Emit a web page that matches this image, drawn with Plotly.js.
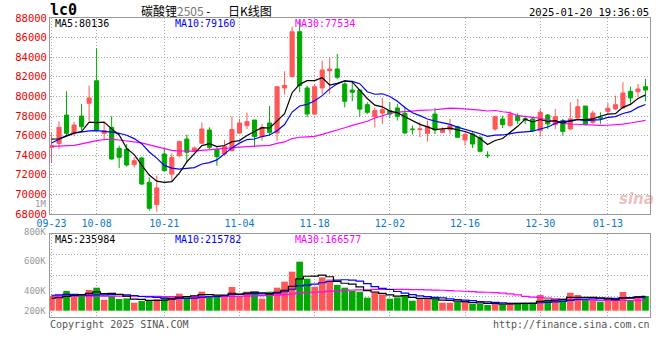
<!DOCTYPE html>
<html>
<head>
<meta charset="utf-8">
<script src="https://cdn.plot.ly/plotly-3.0.1.min.js"></script>
<style>html,body{margin:0;padding:0;background:#fff;}#chart{width:660px;height:360px;}</style>
</head>
<body>
<div id="chart"></div>
<script>
// ---------- data ----------
const dates = ['09-23','09-24','09-25','09-26','09-27','09-30','10-08','10-09','10-10','10-11','10-14','10-15','10-16','10-17','10-18','10-21','10-22','10-23','10-24','10-25','10-28','10-29','10-30','10-31','11-01','11-04','11-05','11-06','11-07','11-08','11-11','11-12','11-13','11-14','11-15','11-18','11-19','11-20','11-21','11-22','11-25','11-26','11-27','11-28','11-29','12-02','12-03','12-04','12-05','12-06','12-09','12-10','12-11','12-12','12-13','12-16','12-17','12-18','12-19','12-20','12-23','12-24','12-25','12-26','12-27','12-30','12-31','01-02','01-03','01-06','01-07','01-08','01-09','01-10','01-13','01-14','01-15','01-16','01-17','01-20'];
const tickDates = ['09-23','10-08','10-21','11-04','11-18','12-02','12-16','12-30','01-13'];

const open  = [74800,75200,78100,76270,78000,79300,81600,76230,76840,74700,74630,73040,73720,71230,68960,74120,72080,73950,75650,74400,75220,76570,74570,74120,74470,76260,77020,77590,75900,77290,76270,80860,82010,86600,80860,78200,80860,82630,82800,81270,80650,80650,79160,77940,78300,78550,78820,78270,76680,76610,76230,78200,76330,76600,76910,75550,76170,75820,74000,76670,77700,77020,78030,77730,77700,76500,78100,77120,77530,76670,77800,79020,77360,77870,78480,78720,78820,80520,80480,80990];
const high  = [76300,77460,80520,77420,79230,81100,84900,77350,77970,74970,75140,73780,73850,71740,71910,74730,74190,75480,76100,74870,77350,76840,74800,75550,77970,77700,78340,77590,77180,79020,81000,82560,87120,87730,81100,81270,83650,83990,84330,81440,81380,80650,79400,78880,79840,79400,79230,78950,77020,77360,77530,78810,76840,77700,77020,76330,76330,76000,74400,78030,78030,78480,78270,78030,77870,78720,78200,78720,77700,79400,79740,79020,78550,78380,79300,80070,81440,81000,81270,81780];
const low   = [73200,74630,76000,75930,76500,77530,76500,75480,73540,72700,72830,72760,70960,68340,68240,72350,71330,73780,73270,74300,75140,74630,72930,73950,74400,76160,76670,74870,75480,76000,75480,80180,81950,80420,77870,78200,80250,80250,81780,78880,79500,77940,78200,76840,77190,77800,77530,76160,76100,75840,75400,76160,76270,76100,75760,75000,74730,74300,73720,76500,76770,76910,77190,77190,76430,75900,76670,76670,76000,76570,77600,77020,77190,77190,78200,78620,78720,79230,79940,79500];
const close = [75000,76850,76230,77080,76900,79840,76570,76500,73610,73780,73000,73440,71060,68580,70660,72420,73780,75390,74300,74740,76670,74800,73850,74900,76630,77290,77420,75900,76840,76330,80990,81130,86600,81100,78200,80990,82700,82800,81950,79500,80420,78700,78380,78550,78650,78200,77970,76270,76610,76680,76950,76570,76600,77000,75830,76100,75140,74400,73950,77930,77120,78200,77530,77600,76500,78380,77190,77930,76430,77700,78950,77120,78300,77800,78790,79160,80350,79840,80760,80650];

const ma5  = [75650,75680,75950,76250,76412,77380,77324,77378,76684,76060,74692,74066,72978,71972,71348,71232,71300,72166,73310,74126,74976,75180,74872,74992,75370,75494,76018,76428,76816,76756,77496,78238,80378,81230,81604,81604,81918,81158,81328,81588,81474,80674,79790,79110,78940,78496,78350,77928,77540,77146,76896,76616,76682,76760,76590,76420,76134,75694,75084,75504,75708,76320,76946,77676,77390,77642,77440,77520,77286,77526,77640,77626,77700,77974,78192,78234,78880,79188,79780,80152];
const ma10 = [75250,75650,76000,76250,76400,76480,76500,76450,76350,76236,76036,75695,75178,74328,73704,72962,72683,72572,72641,72737,73104,73240,73519,74151,74748,75235,75599,75650,75904,76063,76495,77128,78403,79023,79180,79550,80078,80768,81279,81596,81539,81296,80474,80219,80264,79985,79512,78859,78325,78043,77696,77483,77305,77150,76868,76658,76375,76188,75922,76047,76064,76227,76320,76380,76447,76675,76880,77233,77481,77458,77641,77533,77610,77630,77859,77937,78253,78444,78877,79172];
const ma30 = [74900,74920,74950,75000,75150,75350,75480,75600,75620,75550,75450,75350,75250,75050,74850,74650,74500,74430,74400,74420,74500,74580,74650,74720,74780,74830,74880,74920,74960,75012,75212,75354,75700,75834,75877,75916,76120,76330,76608,76799,77046,77221,77465,77798,78064,78257,78396,78426,78503,78567,78577,78636,78727,78797,78771,78731,78655,78605,78509,78562,78433,78335,78033,77916,77860,77773,77589,77427,77243,77183,77134,77081,77078,77053,77058,77090,77169,77288,77427,77559];

const volume = [243000,259000,325000,231000,276000,342000,380000,182000,243000,193000,203000,132000,160000,165000,186000,219000,243000,281000,243000,248000,314000,243000,231000,259000,391000,248000,314000,314000,198000,314000,380000,479000,644000,809000,528000,396000,550000,516000,424000,380000,325000,314000,215000,309000,269000,198000,219000,243000,165000,193000,193000,193000,132000,132000,144000,144000,111000,111000,94000,132000,94000,132000,132000,111000,132000,259000,186000,177000,186000,297000,259000,186000,177000,149000,203000,203000,309000,177000,243000,243000];
const vma5  = [205000,215000,235000,250000,266800,286600,310800,282200,284600,268000,240200,190600,186200,170600,169200,172400,194600,218800,234400,246800,265800,265800,255800,259000,287600,274400,288600,305200,293000,277600,304000,337000,403000,525200,568000,571200,585400,559800,482800,453200,439000,391800,331600,308600,286400,261000,242000,247600,218800,203600,202600,197400,175200,168600,158800,149000,132600,128400,120800,118400,108400,112600,116800,120200,120200,153200,164000,173000,188000,221000,221000,221000,221000,213600,194800,183600,208200,208200,227000,235000];
const vma10 = [255000,262000,270000,268000,262000,258000,260000,262000,265000,267400,263400,250700,234200,227600,218600,206300,192600,202500,202500,208000,219100,230200,237300,246700,267200,270100,277200,280500,276000,282600,289200,312800,354100,409100,422800,437600,461200,481400,504000,510600,505100,488600,445700,395700,369800,350000,316900,289600,263700,245000,231800,219700,211400,193700,181200,175800,165000,151800,144700,138600,128700,122600,122600,120500,119300,130800,138300,144900,154100,170600,187100,192500,197000,200800,207900,202300,214600,214600,220300,214900];
const vma30 = [242000,242000,243000,243000,243000,242000,242000,241000,240000,240000,239000,238000,237000,236000,235000,234000,233000,232000,232000,232000,232000,232000,233000,234000,236000,238000,241000,245000,249000,252700,257200,264600,275200,294500,302900,304700,310300,321500,327500,333700,337800,343900,345700,350500,353300,352600,351800,350500,347900,346100,342000,340400,337100,332800,324600,321100,314400,307600,304100,298100,288500,277000,259900,236600,223400,218900,206700,195400,187500,184700,182500,178300,177000,171700,169500,169600,172600,170400,173000,174700];

const priceTicks = [68000,70000,72000,74000,76000,78000,80000,82000,84000,86000,88000];
const volLabels = ['1M','800K','600K','400K','200K'];

// ---------- styling ----------
const W = 660, H = 360;
const px = x => x / W;
const py = y => 1 - y / H;
const RED = '#ff5757', GREEN = '#00a800';
const MONO = 'DejaVu Sans Mono';
const GRID = '#a8a8a8', BORDER = '#999999';
const volColors = close.map((c, i) => (c >= open[i] ? RED : GREEN));

const traces = [
  {type:'candlestick', x:dates, open:open, high:high, low:low, close:close, xaxis:'x', yaxis:'y',
   increasing:{line:{color:RED, width:1}, fillcolor:RED},
   decreasing:{line:{color:GREEN, width:1}, fillcolor:GREEN},
   whiskerwidth:0, hoverinfo:'skip'},
  {type:'scatter', mode:'lines', x:dates, y:ma30, xaxis:'x', yaxis:'y', line:{color:'#ff00ff', width:1.2}, hoverinfo:'skip'},
  {type:'scatter', mode:'lines', x:dates, y:ma10, xaxis:'x', yaxis:'y', line:{color:'#0000ff', width:1.2}, hoverinfo:'skip'},
  {type:'scatter', mode:'lines', x:dates, y:ma5,  xaxis:'x', yaxis:'y', line:{color:'#000000', width:1.2}, hoverinfo:'skip'},
  {type:'bar', x:dates, y:volume, xaxis:'x2', yaxis:'y2', marker:{color:volColors, line:{width:0}}, hoverinfo:'skip'},
  {type:'scatter', mode:'lines', x:dates, y:vma30, xaxis:'x2', yaxis:'y2', line:{color:'#ff00ff', width:1.2, shape:'hvh'}, hoverinfo:'skip'},
  {type:'scatter', mode:'lines', x:dates, y:vma10, xaxis:'x2', yaxis:'y2', line:{color:'#0000ff', width:1.2, shape:'hvh'}, hoverinfo:'skip'},
  {type:'scatter', mode:'lines', x:dates, y:vma5,  xaxis:'x2', yaxis:'y2', line:{color:'#000000', width:1.2, shape:'hvh'}, hoverinfo:'skip'},
  {type:'scatter', mode:'lines', x:[], y:[], xaxis:'x2', yaxis:'y3', hoverinfo:'skip'}
];

const xBase = {
  type:'category', domain:[px(50), px(650)], range:[-0.2, 79.6],
  tickvals:tickDates, ticktext:tickDates, ticks:'',
  showgrid:true, gridcolor:GRID, griddash:'1px,2px', gridwidth:1,
  showline:true, mirror:true, linecolor:BORDER, linewidth:1,
  zeroline:false, fixedrange:true
};

function ann(text, x, y, opts) {
  return Object.assign({text:text, x:px(x), y:py(y), xref:'paper', yref:'paper', showarrow:false,
    xanchor:'left', yanchor:'middle', borderpad:0, font:{family:MONO, size:10, color:'#000'}}, opts || {});
}

const volLabelY = [204, 232, 261, 291, 310.7];

const annotations = [
  ann('lc0', 49, 9.5, {font:{family:MONO, size:15, color:'#000', weight:'bold'}}),
  ann('碳酸锂<span style="color:#777777">2505</span> -', 140, 10.5, {font:{family:'Noto Sans CJK SC', size:12, color:'#000'}}),
  ann('日K线图', 227, 10.5, {font:{family:'Noto Sans CJK SC', size:12, color:'#000'}}),
  ann('2025-01-20 19:36:05', 650, 11.5, {xanchor:'right', font:{family:MONO, size:10.5, color:'#000'}}),
  ann('MA5:80136', 54, 24),
  ann('MA10:79160', 174, 24, {font:{family:MONO, size:10, color:'#0000ff'}}),
  ann('MA30:77534', 294, 24, {font:{family:MONO, size:10, color:'#ff00ff'}}),
  ann('MA5:235984', 54, 239),
  ann('MA10:215782', 174, 239, {font:{family:MONO, size:10, color:'#0000ff'}}),
  ann('MA30:166577', 294, 239, {font:{family:MONO, size:10, color:'#ff00ff'}}),
  ann('Copyright 2025 SINA.COM', 49, 324, {font:{family:MONO, size:10, color:'#555555'}}),
  ann('http://finance.sina.com.cn', 651, 324, {xanchor:'right', font:{family:MONO, size:10, color:'#555555'}}),
  ann('<i><b>sina</b></i>', 636, 199, {xanchor:'center', font:{family:'DejaVu Sans', size:15, color:'rgba(215,110,110,0.45)'}})
].concat(volLabels.map((t, i) => ann(t, 47, volLabelY[i], {xanchor:'right', font:{family:MONO, size:9, color:'#999999'}})));

const layout = {
  width:W, height:H, margin:{l:0, r:0, t:0, b:0},
  paper_bgcolor:'#ffffff', plot_bgcolor:'#ffffff',
  showlegend:false, boxgap:0.22, bargap:0.12, hovermode:false,
  xaxis: Object.assign({}, xBase, {anchor:'y', rangeslider:{visible:false},
    tickfont:{family:MONO, size:10, color:'#0a78c8'}}),
  xaxis2: Object.assign({}, xBase, {anchor:'y2', showticklabels:false}),
  yaxis: {domain:[py(214), py(18)], range:[68000, 88000], tickvals:priceTicks, tickformat:'d', ticks:'',
    tickfont:{family:MONO, size:10.5, color:'#ee0000'},
    showgrid:true, gridcolor:GRID, griddash:'1px,2px', gridwidth:1,
    showline:true, mirror:true, linecolor:BORDER, linewidth:1, zeroline:false, fixedrange:true},
  yaxis2: {domain:[py(317), py(234)], range:[-104000, 1265500], showgrid:false, showticklabels:false, ticks:'',
    showline:true, mirror:true, linecolor:BORDER, linewidth:1, zeroline:false, fixedrange:true},
  yaxis3: {overlaying:'y2', range:[0, 4], tickvals:[1, 2, 3], showticklabels:false, ticks:'',
    showgrid:true, gridcolor:GRID, griddash:'1px,2px', gridwidth:1, showline:false, zeroline:false, fixedrange:true},
  annotations:annotations
};

Plotly.newPlot('chart', traces, layout, {staticPlot:true, displayModeBar:false});
</script>
</body>
</html>
